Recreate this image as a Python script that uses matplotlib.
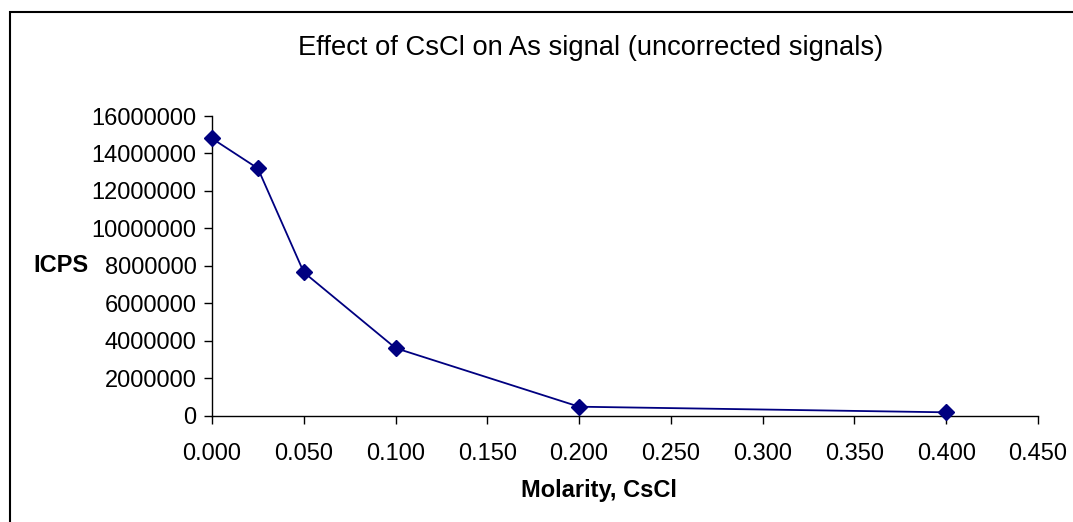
"""Effect of CsCl on As signal - Excel-style line chart."""
import matplotlib
matplotlib.use('Agg')
import matplotlib.pyplot as plt
from matplotlib.patches import Rectangle
from matplotlib.ticker import FormatStrFormatter, MultipleLocator

plt.rcParams['font.family'] = ['Liberation Sans', 'DejaVu Sans']

# data
molarity = [0.0, 0.025, 0.05, 0.1, 0.2, 0.4]
icps = [14800000, 13200000, 7650000, 3600000, 470000, 170000]

NAVY = '#000080'
W, H = 1073, 522

fig = plt.figure(figsize=(W / 100, H / 100), dpi=100)
fig.set_facecolor('white')

# outer chart frame (runs off the right/bottom edge like the source)
fig.patches.append(Rectangle((10 / W, -0.05), 1.2, 1 - 12 / H + 0.05,
                             transform=fig.transFigure, fill=False,
                             edgecolor='black', linewidth=1.5))

ax = fig.add_axes([212 / W, 1 - 415.5 / H, (1038 - 212) / W, (415.5 - 116) / H])
ax.plot(molarity, icps, color=NAVY, linewidth=1.3, marker='D', markersize=8,
        markerfacecolor=NAVY, markeredgecolor=NAVY, clip_on=False, zorder=3)

ax.set_xlim(0, 0.45)
ax.set_ylim(0, 16000000)
ax.xaxis.set_major_locator(MultipleLocator(0.05))
ax.xaxis.set_major_formatter(FormatStrFormatter('%.3f'))
ax.yaxis.set_major_locator(MultipleLocator(2000000))
ax.yaxis.set_major_formatter(FormatStrFormatter('%d'))

for side in ['top', 'right']:
    ax.spines[side].set_visible(False)
for side in ['left', 'bottom']:
    ax.spines[side].set_color('black')
    ax.spines[side].set_linewidth(1.0)
ax.tick_params(axis='both', direction='out', length=6, width=1.0,
               labelsize=17, colors='black')
ax.tick_params(axis='x', pad=14)
ax.tick_params(axis='y', pad=5)

fig.text(591 / W, 1 - 48 / H, 'Effect of CsCl on As signal (uncorrected signals)',
         ha='center', va='center', fontsize=19.7)
fig.text(61 / W, 1 - 265 / H, 'ICPS', ha='center', va='center',
         fontsize=17, fontweight='bold')
fig.text(599 / W, 1 - 490 / H, 'Molarity, CsCl', ha='center', va='center',
         fontsize=17, fontweight='bold')

fig.savefig('out.png', dpi=100, facecolor='white')
plt.close()
print("[OK] out.png")
